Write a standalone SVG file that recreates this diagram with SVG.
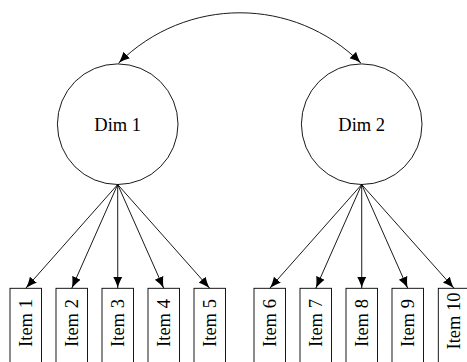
<svg xmlns="http://www.w3.org/2000/svg" width="467" height="362" viewBox="0 0 467 362">
  <style>
    .lat { fill: #fff; stroke: #000; stroke-width: 0.9; }
    .box { fill: #fff; stroke: #000; stroke-width: 0.9; }
    .lbl { font-family: 'Liberation Serif', 'Times New Roman', serif; font-size: 18.5px; fill: #000; text-anchor: middle; }
    .edge { fill: none; stroke: #000; stroke-width: 0.9; }
  </style>
  <defs>
    <marker id="tip" markerUnits="userSpaceOnUse" markerWidth="13" markerHeight="11" refX="11.5" refY="5" orient="auto-start-reverse">
      <path d="M11.5,5 C8,5.7 3.5,7.6 0,9.6 L0,0.4 C3.5,2.4 8,4.3 11.5,5 Z" fill="#000"/>
    </marker>
  </defs>

  <!-- latent factors -->
  <g id="dim1">
    <circle class="lat" cx="117.7" cy="124.2" r="60.3"/>
    <text class="lbl" x="117.7" y="130.8">Dim 1</text>
  </g>
  <g id="dim2">
    <circle class="lat" cx="361.7" cy="124.2" r="60.3"/>
    <text class="lbl" x="361.7" y="130.8">Dim 2</text>
  </g>

  <!-- observed items -->
  <g id="item1"><rect class="box" x="10" y="288.3" width="31.5" height="90"/><text class="lbl" transform="translate(31.8,323) rotate(-90)">Item 1</text></g>
  <g id="item2"><rect class="box" x="56" y="288.3" width="31.5" height="90"/><text class="lbl" transform="translate(77.8,323) rotate(-90)">Item 2</text></g>
  <g id="item3"><rect class="box" x="102" y="288.3" width="31.5" height="90"/><text class="lbl" transform="translate(123.8,323) rotate(-90)">Item 3</text></g>
  <g id="item4"><rect class="box" x="148" y="288.3" width="31.5" height="90"/><text class="lbl" transform="translate(169.8,323) rotate(-90)">Item 4</text></g>
  <g id="item5"><rect class="box" x="194" y="288.3" width="31.5" height="90"/><text class="lbl" transform="translate(215.8,323) rotate(-90)">Item 5</text></g>
  <g id="item6"><rect class="box" x="254" y="288.3" width="31.5" height="90"/><text class="lbl" transform="translate(275.8,323) rotate(-90)">Item 6</text></g>
  <g id="item7"><rect class="box" x="300" y="288.3" width="31.5" height="90"/><text class="lbl" transform="translate(321.8,323) rotate(-90)">Item 7</text></g>
  <g id="item8"><rect class="box" x="346" y="288.3" width="31.5" height="90"/><text class="lbl" transform="translate(367.8,323) rotate(-90)">Item 8</text></g>
  <g id="item9"><rect class="box" x="392" y="288.3" width="31.5" height="90"/><text class="lbl" transform="translate(413.8,323) rotate(-90)">Item 9</text></g>
  <g id="item10"><rect class="box" x="438.3" y="288.3" width="31.5" height="90"/><text class="lbl" transform="translate(460.1,321) rotate(-90)">Item 10</text></g>

  <!-- loadings and factor covariance -->
  <g id="connectors">
    <path class="edge" d="M117.7,184.5 L25.75,288.3" marker-end="url(#tip)"/>
    <path class="edge" d="M117.7,184.5 L71.75,288.3" marker-end="url(#tip)"/>
    <path class="edge" d="M117.7,184.5 L117.75,288.3" marker-end="url(#tip)"/>
    <path class="edge" d="M117.7,184.5 L163.75,288.3" marker-end="url(#tip)"/>
    <path class="edge" d="M117.7,184.5 L209.75,288.3" marker-end="url(#tip)"/>
    <path class="edge" d="M361.7,184.5 L269.75,288.3" marker-end="url(#tip)"/>
    <path class="edge" d="M361.7,184.5 L315.75,288.3" marker-end="url(#tip)"/>
    <path class="edge" d="M361.7,184.5 L361.75,288.3" marker-end="url(#tip)"/>
    <path class="edge" d="M361.7,184.5 L407.75,288.3" marker-end="url(#tip)"/>
    <path class="edge" d="M361.7,184.5 L454.05,288.3" marker-end="url(#tip)"/>
    <path class="edge" d="M118.5,63.2 C186,-4 294,-4 361,63.2" marker-start="url(#tip)" marker-end="url(#tip)"/>
  </g>
</svg>
